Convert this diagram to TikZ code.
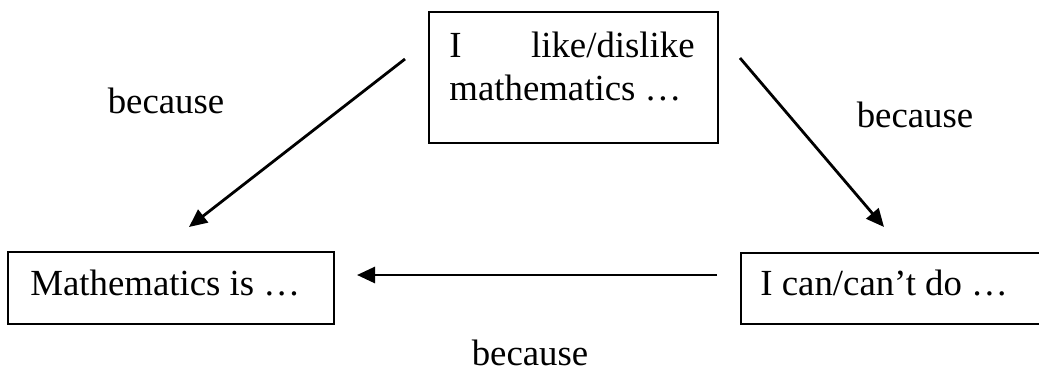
\documentclass[tikz,border=0pt]{standalone}
\usepackage{fontspec}
\setmainfont{Liberation Serif}
\usetikzlibrary{arrows.meta}
\begin{document}
\begin{tikzpicture}[x=0.5pt,y=-0.5pt,
  boxnode/.style={draw,line width=1pt,inner sep=0pt,anchor=north west},
  txt/.style={font=\fontsize{18.4}{22}\selectfont,inner sep=0pt,anchor=base west},
  lbl/.style={font=\fontsize{18.4}{22}\selectfont,inner sep=0pt,anchor=base},
  arr/.style={line width=1.4pt,-{Triangle[length=9pt,width=8pt]}}]
\useasboundingbox (0,0) rectangle (1039,371);
% boxes
\node[boxnode,minimum width=289pt*0.5,minimum height=131pt*0.5] (top) at (428,11) {};
\node[boxnode,minimum width=326pt*0.5,minimum height=72pt*0.5] (left) at (7,251) {};
\node[boxnode,minimum width=340pt*0.5,minimum height=71pt*0.5] (right) at (740,252) {};
% box texts
\node[txt] (t1a) at (449,57) {I};
\node[txt,anchor=base east] (t1b) at (695,57) {like/dislike};
\node[txt] (t2) at (449,100) {mathematics \dots};
\node[txt] (lt) at (30,295) {Mathematics is \dots};
\node[txt] (rt) at (760,295) {I can/can’t do \dots};
% labels
\node[lbl] (b1) at (166,113) {because};
\node[lbl] (b2) at (915,127) {because};
\node[lbl] (b3) at (530,365) {because};
% arrow endpoints
\coordinate (a1s) at (405,59);
\coordinate (a1e) at (189,227);
\coordinate (a2s) at (740,58);
\coordinate (a2e) at (884,227);
\coordinate (a3s) at (717,275);
\coordinate (a3e) at (357,275);
\draw[arr] (a1s) -- (a1e);
\draw[arr] (a2s) -- (a2e);
\draw[arr] (a3s) -- (a3e);
\end{tikzpicture}
\end{document}
